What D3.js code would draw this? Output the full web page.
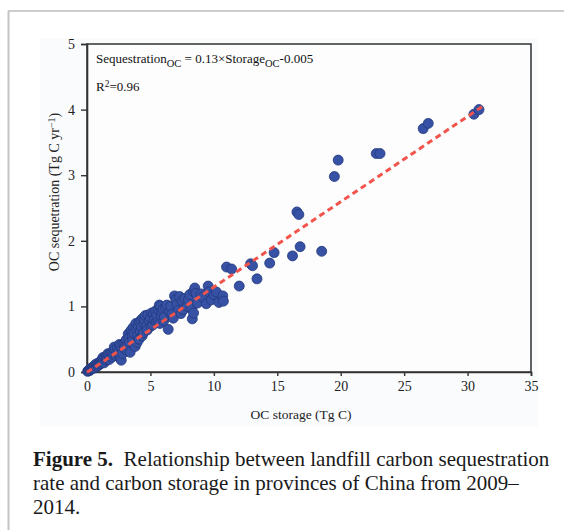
<!DOCTYPE html>
<html>
<head>
<meta charset="utf-8">
<script src="https://cdn.jsdelivr.net/npm/d3@7"></script>
<style>
  body { margin: 0; background: #fff; }
  svg { display: block; font-family: "Liberation Serif", "Times New Roman", serif; }
</style>
</head>
<body>
<svg id="chart" width="564" height="530"></svg>
<script>
// values
const storage = [
  0.05, 0.1, 0.15, 0.2, 0.25, 0.3, 0.35, 0.4, 0.45, 0.5, 0.55, 0.6, 0.65, 0.7, 0.75, 0.8, 0.85, 0.9, 0.95, 1.0,
  1.05, 1.1, 1.15, 1.2, 1.25, 1.3, 1.35, 1.4, 1.5, 1.55, 1.6, 1.65, 1.7, 1.75, 1.8, 1.9, 2.0, 2.05, 2.1, 2.15,
  2.2, 2.3, 2.35, 2.4, 2.5, 2.55, 2.6, 2.65, 2.7, 2.75, 2.8, 2.9, 2.95, 3.0, 3.05, 3.1, 3.15, 3.2, 3.25, 3.3,
  3.35, 3.4, 3.45, 3.5, 3.55, 3.6, 3.65, 3.7, 3.75, 3.8, 3.85, 3.9, 3.95, 4.0, 4.05, 4.1, 4.15, 4.2, 4.25, 4.3,
  4.35, 4.4, 4.45, 4.5, 4.55, 4.6, 4.7, 4.75, 4.8, 4.9, 5.0, 5.05, 5.1, 5.2, 5.25, 5.3, 5.4, 5.45, 5.5, 5.6,
  5.65, 5.7, 5.75, 5.8, 5.85, 5.9, 6.0, 6.05, 6.1, 6.2, 6.3, 6.4, 6.5, 6.6, 6.7, 6.8, 6.9, 7.0, 7.1, 7.2,
  7.3, 7.4, 7.5, 7.6, 7.7, 7.9, 8.0, 8.1, 8.25, 8.3, 8.4, 8.4, 8.5, 8.6, 8.7, 9.0, 9.15, 9.4, 9.55, 9.6,
  9.8, 10.0, 10.2, 10.4, 10.7, 10.75, 11.0, 11.4, 12.0, 12.9, 13.05, 13.4, 14.4, 14.75, 16.2, 16.55, 16.7, 16.8, 18.5, 19.5,
  19.8, 22.8, 23.1, 26.5, 26.9, 30.5, 30.9
];
const sequestration = [
  0.01, 0.02, 0.03, 0.02, 0.04, 0.05, 0.06, 0.05, 0.07, 0.08, 0.06, 0.09, 0.1, 0.12, 0.08, 0.11, 0.13, 0.1, 0.14, 0.12,
  0.16, 0.13, 0.18, 0.15, 0.22, 0.19, 0.14, 0.22, 0.18, 0.24, 0.2, 0.28, 0.26, 0.19, 0.24, 0.29, 0.23, 0.31, 0.27, 0.38,
  0.34, 0.25, 0.3, 0.37, 0.32, 0.42, 0.22, 0.4, 0.18, 0.35, 0.28, 0.43, 0.36, 0.38, 0.47, 0.49, 0.33, 0.41, 0.58, 0.52,
  0.45, 0.3, 0.62, 0.64, 0.55, 0.48, 0.68, 0.59, 0.4, 0.39, 0.74, 0.66, 0.45, 0.56, 0.7, 0.5, 0.76, 0.62, 0.79, 0.68,
  0.55, 0.82, 0.6, 0.74, 0.8, 0.86, 0.7, 0.64, 0.87, 0.78, 0.83, 0.7, 0.9, 0.72, 0.88, 0.8, 0.93, 0.76, 0.86, 0.77,
  0.95, 1.02, 0.74, 1.0, 0.85, 0.92, 0.96, 0.78, 0.84, 0.98, 1.02, 0.65, 0.92, 1.0, 0.88, 0.82, 1.16, 1.1, 1.03, 0.94,
  1.15, 0.89, 1.08, 0.95, 1.12, 1.0, 1.1, 1.18, 0.97, 0.81, 0.9, 1.23, 1.28, 1.2, 1.05, 1.19, 1.14, 1.04, 1.31, 1.22,
  1.1, 1.18, 1.22, 1.06, 1.16, 1.08, 1.6, 1.57, 1.31, 1.65, 1.62, 1.42, 1.66, 1.82, 1.77, 2.44, 2.4, 1.91, 1.84, 2.98,
  3.23, 3.33, 3.33, 3.71, 3.79, 3.93, 4.0
];
const fitX = [0, 31.2];
const fitSlope = 0.13;
const fitIntercept = -0.005;
const xTicks = [0, 5, 10, 15, 20, 25, 30, 35];
const yTicks = [0, 1, 2, 3, 4, 5];
const captionLines = [
  ["Figure 5.", "\u00a0 Relationship between landfill carbon sequestration"],
  ["", "rate and carbon storage in provinces of China from 2009\u2013"],
  ["", "2014."]
];

const svg = d3.select("#chart");
const plotLeft = 87, plotRight = 531, plotTop = 44, plotBottom = 372;

// outer page frame lines
svg.append("line").attr("x1", 8).attr("x2", 564).attr("y1", 11).attr("y2", 11)
  .attr("stroke", "#bdbdbd").attr("stroke-width", 1.5);
svg.append("line").attr("x1", 8.5).attr("x2", 8.5).attr("y1", 11).attr("y2", 530)
  .attr("stroke", "#c4c4c4").attr("stroke-width", 2);

// light panel behind the figure
svg.append("rect").attr("x", 40).attr("y", 38).attr("width", 498).attr("height", 389)
  .attr("fill", "#fafbfd");

const x = d3.scaleLinear().domain([0, 35]).range([plotLeft, plotRight]);
const y = d3.scaleLinear().domain([0, 5]).range([plotBottom, plotTop]);

// plot frame
svg.append("rect").attr("x", plotLeft).attr("y", plotTop)
  .attr("width", plotRight - plotLeft).attr("height", plotBottom - plotTop)
  .attr("fill", "#fdfdfe").attr("stroke", "#3d3d3d").attr("stroke-width", 1.6);

const xAxis = svg.append("g").attr("transform", `translate(0,${plotBottom})`)
  .call(d3.axisBottom(x).tickValues(xTicks).tickFormat(d3.format("d")).tickSize(4).tickPadding(5));
const yAxis = svg.append("g").attr("transform", `translate(${plotLeft},0)`)
  .call(d3.axisLeft(y).tickValues(yTicks).tickFormat(d3.format("d")).tickSize(6).tickPadding(6));
[xAxis, yAxis].forEach(g => {
  g.select(".domain").attr("stroke", "#333").attr("stroke-width", 1.6);
  g.selectAll(".tick line").attr("stroke", "#333").attr("stroke-width", 1.4);
  g.selectAll(".tick text").attr("fill", "#222")
    .style("font-family", "Liberation Serif, serif").style("font-size", "14px");
});

// points
const pts = storage.map((s, i) => ({ s, q: sequestration[i] }));
svg.append("g").selectAll("circle").data(pts).join("circle")
  .attr("cx", d => x(d.s)).attr("cy", d => y(d.q)).attr("r", 5)
  .attr("fill", "#3752a4").attr("stroke", "#22387e").attr("stroke-width", 0.8);

// fitted line
svg.append("line")
  .attr("x1", x(fitX[0])).attr("y1", y(fitSlope * fitX[0] + fitIntercept))
  .attr("x2", x(fitX[1])).attr("y2", y(fitSlope * fitX[1] + fitIntercept))
  .attr("stroke", "#f2544c").attr("stroke-width", 3).attr("stroke-dasharray", "6,4");

// equation
const eq = svg.append("text").attr("x", 96).attr("y", 63)
  .attr("fill", "#111").style("font-size", "13px");
eq.append("tspan").text("Sequestration");
eq.append("tspan").text("OC").attr("dy", 4).style("font-size", "10.5px");
eq.append("tspan").text(" = 0.13\u00d7Storage").attr("dy", -4);
eq.append("tspan").text("OC").attr("dy", 4).style("font-size", "10.5px");
eq.append("tspan").text("-0.005").attr("dy", -4);

const r2 = svg.append("text").attr("x", 96).attr("y", 91)
  .attr("fill", "#111").style("font-size", "13px");
r2.append("tspan").text("R");
r2.append("tspan").text("2").attr("dy", -4).style("font-size", "9.5px");
r2.append("tspan").text("=0.96").attr("dy", 4);

// axis titles
svg.append("text").attr("x", 301).attr("y", 419).attr("text-anchor", "middle")
  .attr("fill", "#222").style("font-size", "13.5px").text("OC storage (Tg C)");
const yl = svg.append("text").attr("transform", "translate(59,192) rotate(-90)")
  .attr("text-anchor", "middle").attr("fill", "#222").style("font-size", "14px");
yl.append("tspan").text("OC sequetration (Tg C yr");
yl.append("tspan").text("\u22121").attr("dy", -4).style("font-size", "10px");
yl.append("tspan").text(")").attr("dy", 4);

// caption
const cap = svg.append("text").attr("fill", "#1a1a1a").style("font-size", "21px");
captionLines.forEach((ln, i) => {
  const t = cap.append("tspan").attr("x", 33).attr("y", 466 + i * 24);
  if (ln[0]) t.append("tspan").style("font-weight", "bold").text(ln[0]);
  t.append("tspan").text(ln[1]);
});
</script>
</body>
</html>
